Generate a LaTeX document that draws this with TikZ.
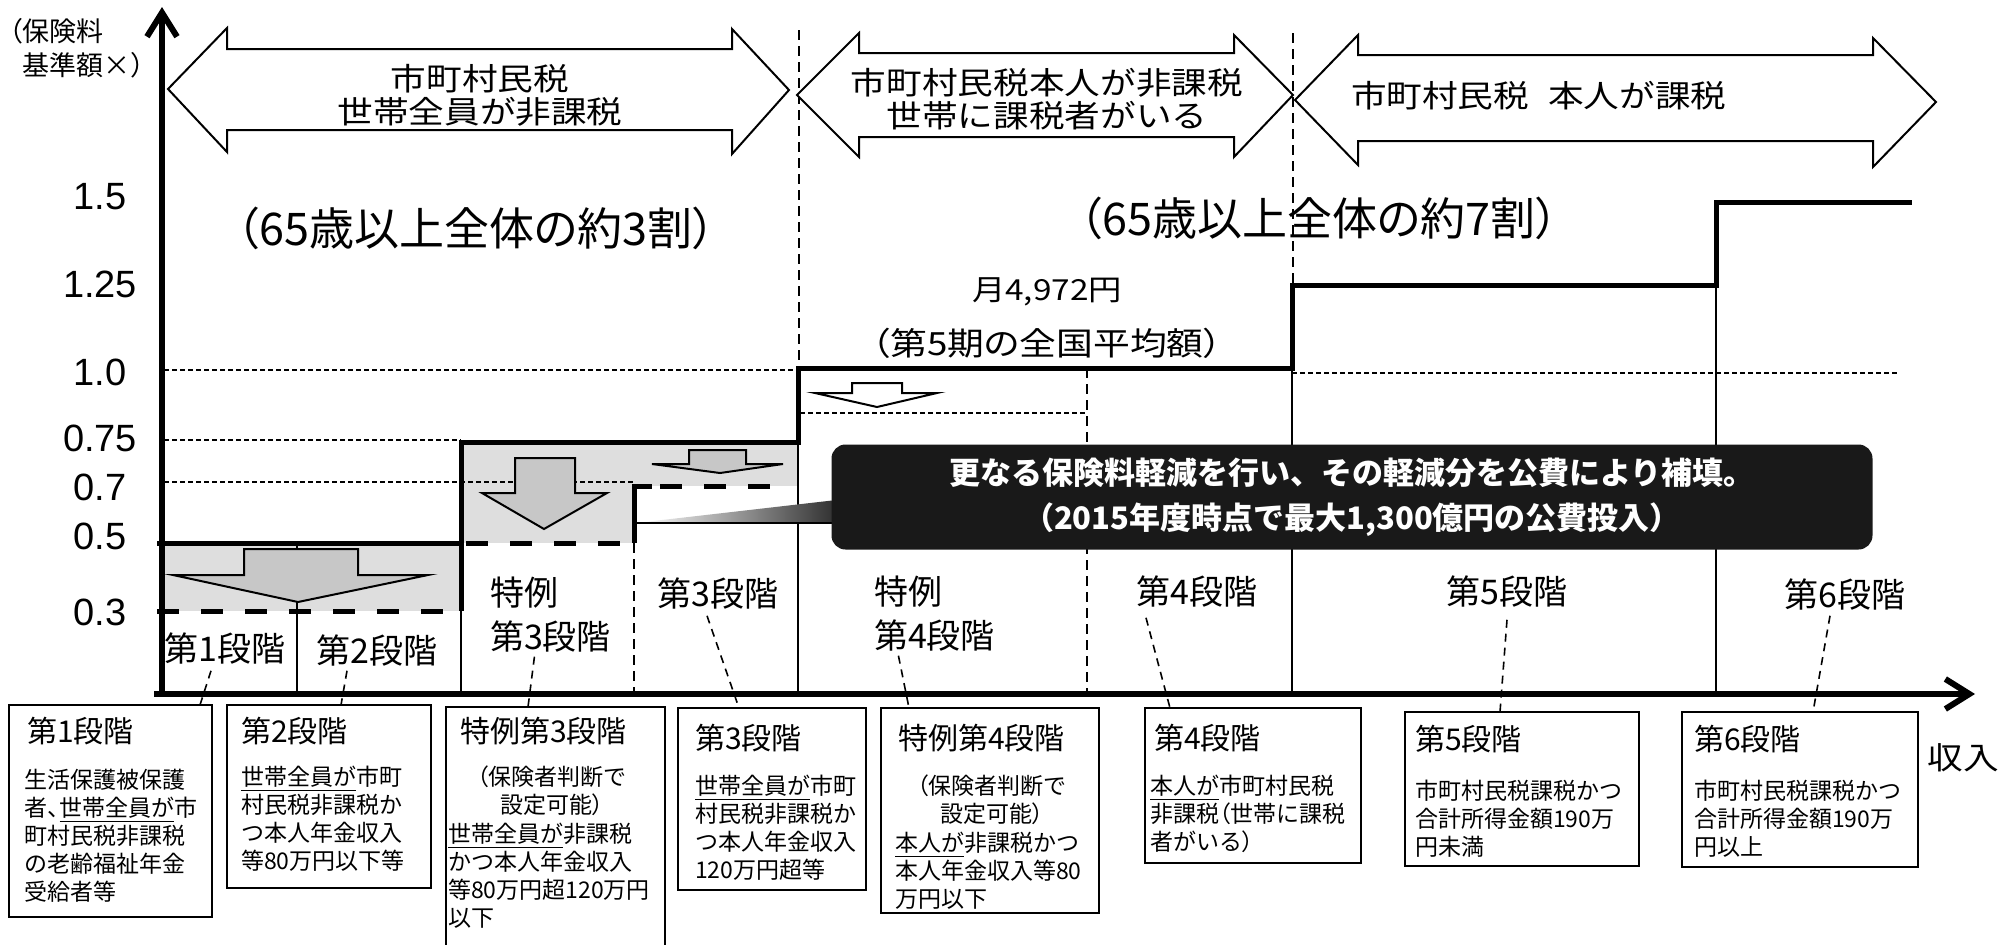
\documentclass[tikz,border=0pt]{standalone}
\usepackage{fontspec}
\setmainfont{Liberation Sans}
\newfontfamily\fjp{Noto Sans CJK JP}
\newfontfamily\fjpp[RawFeature=+palt]{Noto Sans CJK JP}
\newfontfamily\fjpw[FakeStretch=1.15]{Noto Sans CJK JP}
\newfontfamily\fjpwp[FakeStretch=1.15,RawFeature=+palt]{Noto Sans CJK JP}
\usetikzlibrary{arrows.meta}
\begin{document}
\begin{tikzpicture}[x=0.5pt,y=-0.5pt,
  every node/.style={inner sep=0pt, outer sep=0pt},
  stepline/.style={line width=2.5pt},
  axisline/.style={line width=3pt},
  thinline/.style={line width=1pt},
  dotline/.style={line width=1pt, dash pattern=on 2.5pt off 1.5pt},
  thindash/.style={line width=1pt, dash pattern=on 5pt off 3pt},
  reddash/.style={line width=2.5pt, dash pattern=on 11pt off 11pt},
  leader/.style={line width=0.8pt, dash pattern=on 4pt off 3pt},
  dblarrow/.style={draw=black, line width=1pt, fill=white},
  grayarrow/.style={draw=black, line width=1pt, fill=black!22},
  whitearrow/.style={draw=black, line width=1pt, fill=white},
  shadearea/.style={fill=black!13},
  infobox/.style={draw=black, line width=1.25pt, anchor=north west, fill=white},
  boxtitle/.style={font=\fjp\fontsize{15pt}{18pt}\selectfont, anchor=west},
  boxbody/.style={font=\fjp\fontsize{11.5pt}{14pt}\selectfont, anchor=north west, align=left},
  boxbodyc/.style={font=\fjp\fontsize{11.5pt}{14pt}\selectfont, anchor=north, align=center},
  stagelab/.style={font=\fjp\fontsize{17pt}{22pt}\selectfont},
  ticklab/.style={font=\fontsize{19pt}{22pt}\selectfont},
  arrowtext/.style={font=\fjpw\fontsize{15.5pt}{16.5pt}\selectfont, align=center},
  bigtext/.style={font=\fjpp\fontsize{22.5pt}{26pt}\selectfont},
  callout/.style={fill=black!90, rounded corners=7pt, text=white, align=center,
    font=\fjp\bfseries\fontsize{15.5pt}{22.5pt}\selectfont},
]
\useasboundingbox (0,0) rectangle (2013,944);
\fill[white] (0,0) rectangle (2013,944);

% shaded reduction areas
\fill[shadearea] (164,543) rectangle (461,611);
\fill[shadearea] (461,442) rectangle (634,543);
\fill[shadearea] (634,442) rectangle (798,486);

% dotted reference levels
\draw[dotline] (164,370) -- (798,370);
\draw[dotline] (1292,373) -- (1900,373);
\draw[dotline] (164,440) -- (461,440);
\draw[dotline] (164,482) -- (634,482);
\draw[dotline] (800,413) -- (1087,413);

% vertical dividers
\draw[thinline] (297,543) -- (297,694);
\draw[thinline] (461,611) -- (461,694);
\draw[thindash] (634,543) -- (634,694);
\draw[thinline] (798,442) -- (798,694);
\draw[thindash] (1087,368) -- (1087,694);
\draw[thinline] (1292,285) -- (1292,694);
\draw[thinline] (1716,202) -- (1716,694);
\draw[thindash] (799,30) -- (799,368);
\draw[thindash] (1293,33) -- (1293,285);

% down arrows
\filldraw[grayarrow] (244,549) -- (358,549) -- (358,575) -- (428,575) -- (298,602) -- (173,575) -- (244,575) -- cycle;
\filldraw[grayarrow] (515,458) -- (575,458) -- (575,493) -- (607,493) -- (544,529) -- (482,493) -- (515,493) -- cycle;
\filldraw[grayarrow] (689,450) -- (746,450) -- (746,464) -- (783,464) -- (720,473) -- (652,464) -- (689,464) -- cycle;
\filldraw[whitearrow] (852,383) -- (902,383) -- (902,393) -- (937,393) -- (877,407) -- (815,393) -- (852,393) -- cycle;

% premium steps
\draw[stepline] (157,543) -- (461,543) -- (461,442) -- (798,442) -- (798,368) -- (1292,368) -- (1292,285) -- (1716,285) -- (1716,202) -- (1912,202);
\draw[stepline] (461,543) -- (461,611);
\draw[reddash] (157,611) -- (455,611);
\draw[reddash] (466,543) -- (628,543);
\draw[stepline] (634,543) -- (634,486) -- (652,486);
\draw[reddash] (660,486) -- (791,486);

% axes
\coordinate (origin) at (162,694);
\coordinate (ytip) at (162,7);
\coordinate (xstart) at (154,694);
\coordinate (xtip) at (1975,694);
\draw[axisline,-{Straight Barb[length=12pt,width=15pt]}] (origin) -- (ytip);
\draw[axisline,-{Straight Barb[length=12pt,width=15pt]}] (xstart) -- (xtip);

% double arrows at top
\filldraw[dblarrow] (168,89) -- (227,28) -- (227,49) -- (732,49) -- (732,29) -- (789,90) -- (732,154) -- (732,130) -- (227,130) -- (227,152) -- cycle;
\filldraw[dblarrow] (797,95) -- (859,33) -- (859,53) -- (1234,53) -- (1234,35) -- (1293,95) -- (1234,157) -- (1234,137) -- (859,137) -- (859,157) -- cycle;
\filldraw[dblarrow] (1295,100) -- (1358,35) -- (1358,55) -- (1873,55) -- (1873,38) -- (1936,102) -- (1873,167) -- (1873,141) -- (1358,141) -- (1358,165) -- cycle;
\node[arrowtext] (a1t) at (480,95) {市町村民税\\世帯全員が非課税};
\node[arrowtext] (a2t) at (1047,99) {市町村民税本人が非課税\\世帯に課税者がいる};
\node[arrowtext, anchor=west] (a3t) at (1351,96) {市町村民税\hspace{9.5pt}本人が課税};

% axis labels
\node[font=\fjpp\fontsize{13.5pt}{16pt}\selectfont, anchor=west] (ylab1) at (9,31) {（保険料};
\node[font=\fjp\fontsize{13.5pt}{16pt}\selectfont, anchor=west] (ylab2) at (22,65) {基準額×）};
\node[ticklab] (t150) at (100,197) {1.5};
\node[ticklab] (t125) at (100,284) {1.25};
\node[ticklab] (t100) at (100,372) {1.0};
\node[ticklab] (t075) at (100,438) {0.75};
\node[ticklab] (t070) at (100,487) {0.7};
\node[ticklab] (t050) at (100,536) {0.5};
\node[ticklab] (t030) at (100,612) {0.3};
\node[font=\fjpw\fontsize{15.5pt}{18pt}\selectfont] (inc) at (1963,758) {収入};

% big captions
\node[bigtext] (pct3) at (476,228) {（65歳以上全体の約3割）};
\node[bigtext] (pct7) at (1319,218) {（65歳以上全体の約7割）};
\node[font=\fjpw\fontsize{14.5pt}{17pt}\selectfont] (month) at (1047,292) {月4,972円};
\node[font=\fjpwp\fontsize{16pt}{19pt}\selectfont] (avg) at (1047,343) {（第5期の全国平均額）};

% callout
\coordinate (ptip) at (636,523);
\shade[left color=white, right color=black!85] (ptip) -- (845,499) -- (845,524) -- cycle;
\draw[thinline] (ptip) -- (845,523);
\node[callout, minimum width=520.5pt, minimum height=52.5pt] (call) at (1352,497)
  {更なる保険料軽減を行い、その軽減分を公費により補填。\\（2015年度時点で最大1,300億円の公費投入）};

% stage labels in chart
\node[stagelab] (s1) at (225,649) {第1段階};
\node[stagelab] (s2) at (377,651) {第2段階};
\node[stagelab, align=left, anchor=west] (s3) at (490,615) {特例\\第3段階};
\node[stagelab] (s4) at (718,594) {第3段階};
\node[stagelab, align=left, anchor=west] (s5) at (874,614) {特例\\第4段階};
\node[stagelab] (s6) at (1197,592) {第4段階};
\node[stagelab] (s7) at (1507,592) {第5段階};
\node[stagelab] (s8) at (1845,595) {第6段階};

% description boxes
\node[infobox, minimum width=101.5pt, minimum height=106pt] (b1) at (9,705) {};
\node[infobox, minimum width=102pt, minimum height=91.5pt] (b2) at (227,705) {};
\node[infobox, minimum width=109.5pt, minimum height=130pt] (b3) at (446,707) {};
\node[infobox, minimum width=94pt, minimum height=91pt] (b4) at (678,708) {};
\node[infobox, minimum width=109pt, minimum height=102.5pt] (b5) at (881,708) {};
\node[infobox, minimum width=108pt, minimum height=77.5pt] (b6) at (1145,708) {};
\node[infobox, minimum width=117pt, minimum height=77pt] (b7) at (1405,712) {};
\node[infobox, minimum width=118pt, minimum height=77.5pt] (b8) at (1682,712) {};

\node[boxtitle] (b1t) at (27,731) {第1段階};
\node[boxtitle] (b2t) at (241,731) {第2段階};
\node[boxtitle] (b3t) at (460,731) {特例第3段階};
\node[boxtitle] (b4t) at (695,738) {第3段階};
\node[boxtitle] (b5t) at (898,738) {特例第4段階};
\node[boxtitle] (b6t) at (1154,738) {第4段階};
\node[boxtitle] (b7t) at (1415,739) {第5段階};
\node[boxtitle] (b8t) at (1694,739) {第6段階};

\node[boxbody] (b1x) at (25,769) {生活保護被保護\\者{\fjpp 、}\underline{世帯全員が}市\\町村民税非課税\\の老齢福祉年金\\受給者等};
\node[boxbody] (b2x) at (241,766) {\underline{世帯全員が}市町\\村民税非課税か\\つ本人年金収入\\等80万円以下等};
\node[boxbodyc] (b3c) at (552,766) {{\fjpp （}保険者判断で\\設定可能{\fjpp ）}};
\node[boxbody] (b3x) at (448,823) {\underline{世帯全員が}非課税\\かつ本人年金収入\\等80万円超120万円\\以下};
\node[boxbody] (b4x) at (695,775) {\underline{世帯全員が}市町\\村民税非課税か\\つ本人年金収入\\120万円超等};
\node[boxbodyc] (b5c) at (992,775) {{\fjpp （}保険者判断で\\設定可能{\fjpp ）}};
\node[boxbody] (b5x) at (895,832) {\underline{本人が}非課税かつ\\本人年金収入等80\\万円以下};
\node[boxbody] (b6x) at (1150,775) {\underline{本人が}市町村民税\\非課税{\fjpp （}世帯に課税\\者がいる{\fjpp ）}};
\node[boxbody] (b7x) at (1415,780) {市町村民税課税かつ\\合計所得金額190万\\円未満};
\node[boxbody] (b8x) at (1694,780) {市町村民税課税かつ\\合計所得金額190万\\円以上};

% leaders
\draw[leader] ([xshift=-7pt,yshift=-3pt]s1.south) -- ([xshift=95.5pt]b1.north west);
\draw[leader] ([xshift=-15pt,yshift=-2pt]s2.south) -- ([xshift=57pt]b2.north west);
\draw[leader] ([xshift=-8pt,yshift=-2pt]s3.south) -- ([xshift=41pt]b3.north west);
\draw[leader] ([xshift=-5.5pt,yshift=-3pt]s4.south) -- ([xshift=30.5pt]b4.north west);
\draw[leader] ([xshift=-18pt,yshift=-2pt]s5.south) -- ([xshift=14pt]b5.north west);
\draw[leader] ([xshift=-25.5pt,yshift=-5pt]s6.south) -- ([xshift=12.5pt]b6.north west);
\draw[leader] ([yshift=-6pt]s7.south) -- ([xshift=47.5pt]b7.north west);
\draw[leader] ([xshift=-7.5pt,yshift=-2.5pt]s8.south) -- ([xshift=65.5pt]b8.north west);
\end{tikzpicture}
\end{document}
